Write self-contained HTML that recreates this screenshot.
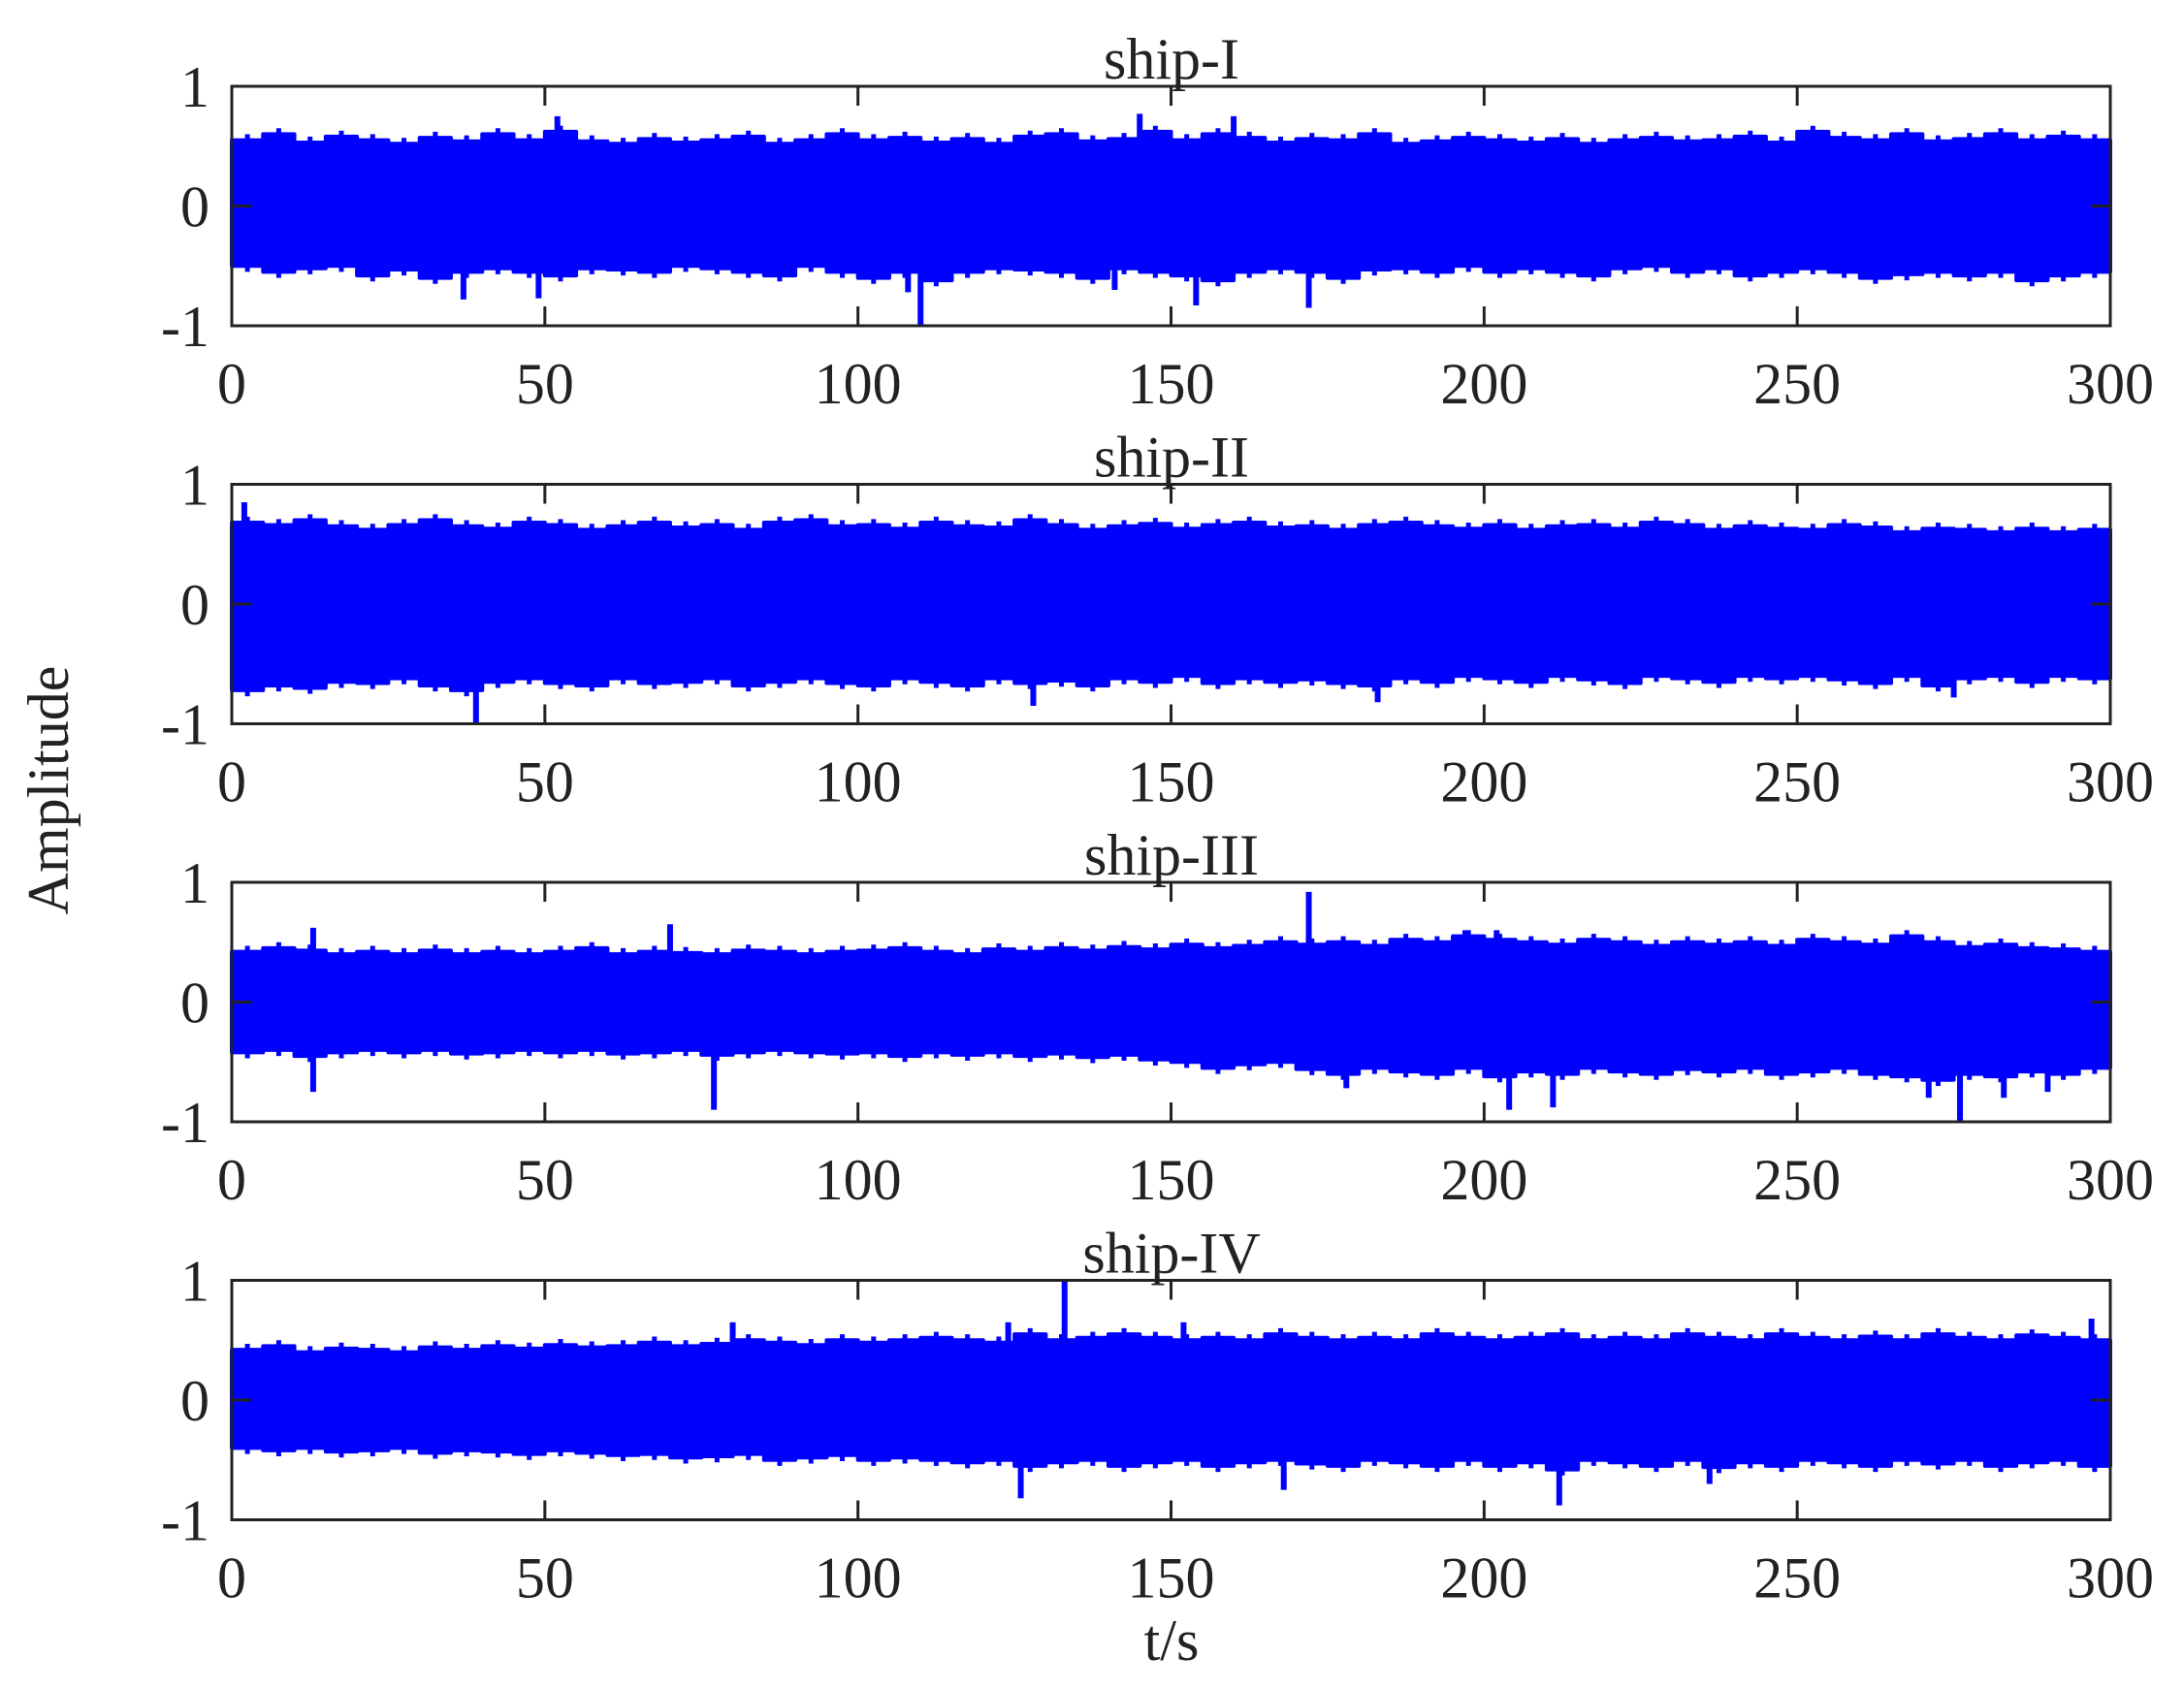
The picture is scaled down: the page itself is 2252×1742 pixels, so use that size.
<!DOCTYPE html>
<html><head><meta charset="utf-8"><style>
html,body{margin:0;padding:0;background:#fff}
svg{display:block}
text{font-family:"Liberation Serif",serif;fill:#222}
</style></head><body>
<svg id="chart" width="2252" height="1742" viewBox="0 0 2252 1742" xmlns="http://www.w3.org/2000/svg">
<text x="0" y="0" font-size="60" text-anchor="middle" transform="translate(70,815) rotate(-90)">Amplitude</text>
<text x="1208" y="1712" font-size="60" text-anchor="middle">t/s</text>
</svg>
<script>
const titles = ["ship-I","ship-II","ship-III","ship-IV"];
const xTicks = [0,50,100,150,200,250,300];
const yTicks = [-1,0,1];
const binSec = 5;
const upper1 = [0.55,0.6,0.53,0.58,0.55,0.52,0.57,0.54,0.6,0.55,0.62,0.54,0.52,0.56,0.53,0.55,0.58,0.52,0.55,0.6,0.55,0.57,0.53,0.56,0.52,0.58,0.6,0.54,0.56,0.62,0.55,0.6,0.57,0.53,0.56,0.55,0.6,0.52,0.54,0.57,0.55,0.53,0.56,0.52,0.55,0.57,0.54,0.55,0.58,0.53,0.62,0.57,0.55,0.6,0.54,0.56,0.6,0.55,0.58,0.55];
const lower1 = [-0.5,-0.55,-0.52,-0.5,-0.58,-0.53,-0.6,-0.55,-0.52,-0.55,-0.58,-0.52,-0.53,-0.55,-0.5,-0.52,-0.55,-0.58,-0.5,-0.55,-0.6,-0.55,-0.62,-0.55,-0.52,-0.53,-0.55,-0.6,-0.52,-0.55,-0.58,-0.62,-0.55,-0.52,-0.55,-0.6,-0.53,-0.52,-0.55,-0.5,-0.55,-0.52,-0.55,-0.58,-0.52,-0.5,-0.55,-0.52,-0.58,-0.55,-0.52,-0.55,-0.6,-0.57,-0.55,-0.58,-0.55,-0.62,-0.58,-0.55];
const spikes1 = [[52,0.75],[145,0.77],[160,0.75],[37,-0.78],[49,-0.77],[108,-0.72],[110,-1.0],[141,-0.7],[154,-0.83],[172,-0.85]];
const upper2 = [0.68,0.66,0.7,0.65,0.62,0.66,0.7,0.65,0.63,0.68,0.66,0.62,0.65,0.68,0.64,0.66,0.62,0.68,0.7,0.65,0.66,0.63,0.68,0.65,0.64,0.7,0.66,0.62,0.65,0.67,0.63,0.66,0.68,0.64,0.65,0.62,0.66,0.68,0.65,0.63,0.66,0.62,0.65,0.66,0.63,0.68,0.66,0.62,0.65,0.63,0.62,0.66,0.64,0.6,0.63,0.62,0.6,0.63,0.6,0.62];
const lower2 = [-0.72,-0.68,-0.7,-0.65,-0.66,-0.62,-0.68,-0.72,-0.65,-0.62,-0.66,-0.68,-0.62,-0.66,-0.65,-0.62,-0.68,-0.65,-0.62,-0.66,-0.68,-0.62,-0.65,-0.68,-0.62,-0.66,-0.64,-0.68,-0.62,-0.65,-0.6,-0.66,-0.62,-0.65,-0.63,-0.66,-0.68,-0.62,-0.65,-0.6,-0.62,-0.65,-0.6,-0.63,-0.66,-0.6,-0.62,-0.65,-0.6,-0.62,-0.6,-0.63,-0.66,-0.6,-0.68,-0.62,-0.6,-0.65,-0.6,-0.62];
const spikes2 = [[2,0.85],[39,-1.0],[128,-0.85],[183,-0.82],[275,-0.78]];
const upper3 = [0.42,0.45,0.43,0.4,0.42,0.4,0.43,0.4,0.42,0.4,0.42,0.45,0.4,0.42,0.41,0.4,0.43,0.42,0.4,0.42,0.43,0.45,0.42,0.4,0.44,0.42,0.45,0.43,0.46,0.44,0.48,0.45,0.47,0.5,0.48,0.5,0.47,0.52,0.5,0.55,0.52,0.5,0.48,0.52,0.5,0.47,0.5,0.48,0.5,0.47,0.52,0.5,0.48,0.55,0.5,0.46,0.48,0.45,0.44,0.42];
const lower3 = [-0.42,-0.4,-0.45,-0.42,-0.4,-0.42,-0.4,-0.43,-0.42,-0.4,-0.42,-0.4,-0.43,-0.42,-0.4,-0.44,-0.42,-0.4,-0.42,-0.43,-0.42,-0.45,-0.42,-0.44,-0.42,-0.45,-0.43,-0.46,-0.44,-0.48,-0.5,-0.55,-0.52,-0.5,-0.56,-0.6,-0.55,-0.58,-0.6,-0.55,-0.62,-0.58,-0.6,-0.55,-0.58,-0.6,-0.56,-0.58,-0.55,-0.6,-0.58,-0.55,-0.6,-0.62,-0.65,-0.6,-0.62,-0.58,-0.6,-0.55];
const spikes3 = [[13,0.62],[70,0.65],[172,0.92],[197,0.6],[202,0.6],[13,-0.75],[77,-0.9],[178,-0.72],[204,-0.9],[211,-0.88],[271,-0.8],[276,-1.0],[283,-0.8],[290,-0.75]];
const upper4 = [0.42,0.45,0.4,0.43,0.42,0.4,0.44,0.42,0.45,0.43,0.46,0.44,0.45,0.48,0.45,0.47,0.5,0.48,0.46,0.5,0.48,0.5,0.52,0.5,0.48,0.55,0.5,0.52,0.55,0.52,0.5,0.52,0.5,0.55,0.52,0.5,0.52,0.5,0.55,0.52,0.5,0.52,0.55,0.5,0.52,0.5,0.55,0.52,0.5,0.55,0.52,0.5,0.53,0.5,0.55,0.52,0.5,0.54,0.52,0.5];
const lower4 = [-0.4,-0.42,-0.4,-0.43,-0.42,-0.4,-0.44,-0.42,-0.43,-0.45,-0.42,-0.44,-0.46,-0.45,-0.48,-0.47,-0.45,-0.5,-0.48,-0.46,-0.5,-0.48,-0.5,-0.52,-0.5,-0.55,-0.52,-0.5,-0.55,-0.52,-0.5,-0.55,-0.52,-0.5,-0.53,-0.55,-0.5,-0.52,-0.55,-0.5,-0.55,-0.52,-0.58,-0.5,-0.52,-0.55,-0.5,-0.56,-0.52,-0.55,-0.5,-0.52,-0.55,-0.5,-0.53,-0.5,-0.55,-0.52,-0.5,-0.55];
const spikes4 = [[80,0.65],[124,0.65],[133,1.0],[152,0.65],[297,0.68],[126,-0.82],[168,-0.75],[212,-0.88],[236,-0.7]];
const uppers=[upper1,upper2,upper3,upper4], lowers=[lower1,lower2,lower3,lower4], spikesAll=[spikes1,spikes2,spikes3,spikes4];

const NS="http://www.w3.org/2000/svg";
const svg=document.getElementById('chart');
const X0=239,X1=2176,TOP0=89,GAP=410.5,H=247;
function mk(tag,attrs,parent){const e=document.createElementNS(NS,tag);for(const k in attrs)e.setAttribute(k,attrs[k]);(parent||svg).appendChild(e);return e;}
const xs=t=>X0+(t/300)*(X1-X0);
for(let p=0;p<4;p++){
  const top=TOP0+p*GAP, bot=top+H;
  const ys=v=>top+H/2-v*(H/2);
  const g=mk('g',{});
  
  
  let d='M'+xs(0)+','+ys(0);
  const up=uppers[p], lo=lowers[p];
  up.forEach((v,i)=>{d+=' L'+xs(i*binSec)+','+ys(v)+' L'+xs((i+1)*binSec)+','+ys(v);});
  for(let i=lo.length-1;i>=0;i--){d+=' L'+xs((i+1)*binSec)+','+ys(lo[i])+' L'+xs(i*binSec)+','+ys(lo[i]);}
  d+='Z';
  const env=mk('path',{d:d,fill:'#0000ff',stroke:'#0000ff','stroke-width':4,'stroke-linejoin':'round'},g);
  
  
  up.forEach((v,i)=>{const l=mk('line',{x1:xs(i*binSec+2.5),x2:xs(i*binSec+2.5),y1:ys(v+0.05),y2:ys(lo[i]-0.05),stroke:'#0000ff','stroke-width':5},g);
    
    });
  spikesAll[p].forEach(s=>{const l=mk('line',{x1:xs(s[0]),x2:xs(s[0]),y1:ys(0),y2:ys(s[1]),stroke:'#0000ff','stroke-width':6},g);
    
    });
  const box=mk('rect',{x:X0,y:top,width:X1-X0,height:H,fill:'none',stroke:'#222','stroke-width':3},g);
  
  
  xTicks.forEach(t=>{
    mk('line',{x1:xs(t),x2:xs(t),y1:top,y2:top+20,stroke:'#222','stroke-width':3},g);
    mk('line',{x1:xs(t),x2:xs(t),y1:bot,y2:bot-20,stroke:'#222','stroke-width':3},g);
    const tx=mk('text',{x:xs(t),y:bot+80,'font-size':60,'text-anchor':'middle'},g);
    tx.textContent=t;
    
    
  });
  yTicks.forEach(v=>{
    mk('line',{x1:X0,x2:X0+20,y1:ys(v),y2:ys(v),stroke:'#222','stroke-width':3},g);
    mk('line',{x1:X1,x2:X1-20,y1:ys(v),y2:ys(v),stroke:'#222','stroke-width':3},g);
    const tx=mk('text',{x:216,y:ys(v)+21,'font-size':60,'text-anchor':'end'},g);
    tx.textContent=v;
    
    
  });
  const tt=mk('text',{x:1208,y:top-8,'font-size':60,'text-anchor':'middle'},g);
  tt.textContent=titles[p];
  
  
}
</script>
</body></html>
